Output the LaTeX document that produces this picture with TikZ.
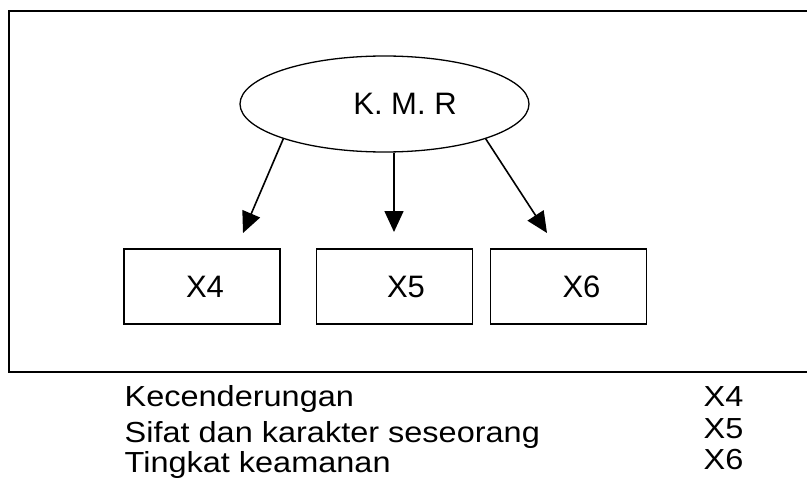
\documentclass[tikz,border=0pt]{standalone}
\usepackage{fontspec}
\setmainfont{Liberation Sans}
\newfontfamily\legendfont{Liberation Sans}[FakeStretch=1.12]
\usetikzlibrary{arrows.meta,shapes.geometric}
\begin{document}
\begin{tikzpicture}[x=1pt,y=-1pt,
  line width=1.3pt,
  boxnode/.style={draw, rectangle, minimum width=156pt, minimum height=75pt, inner sep=0pt, font=\fontsize{31}{36}\selectfont},
  ellnode/.style={draw, ellipse, minimum width=289pt, minimum height=96pt, inner sep=0pt, font=\fontsize{31}{36}\selectfont},
  arr/.style={-{Triangle[length=21pt,width=19pt]}, line width=1.6pt},
  legend/.style={anchor=base west, inner sep=0pt, font=\legendfont\fontsize{29}{32}\selectfont}]
\useasboundingbox (0,0) rectangle (807,487);
% frame (right side lies beyond the picture)
\draw[line width=1.6pt] (815,11) -- (9,11) -- (9,372) -- (815,372);
% nodes
\node[ellnode] (kmr) at (384.5,104) {\hspace*{41pt}K. M. R};
\node[boxnode] (x4) at (202,286.5) {\hspace*{6pt}X4};
\node[boxnode] (x5) at (394.5,286.5) {\hspace*{23pt}X5};
\node[boxnode] (x6) at (568.5,286.5) {\hspace*{26pt}X6};
% arrow tips
\coordinate (t4) at (243,233);
\coordinate (t5) at (394,232);
\coordinate (t6) at (547,233);
\draw[arr] (kmr.199) -- (t4);
\draw[arr] (kmr.south -| t5) -- (t5);
\draw[arr] (kmr.341) -- (t6);
% legend
\node[legend] (l1) at (124,406.7) {Kecenderungan};
\node[legend] (l2) at (124,442) {Sifat dan karakter seseorang};
\node[legend] (l3) at (124,472) {Tingkat keamanan};
\node[legend] (r1) at (703,406.7) {X4};
\node[legend] (r2) at (703,438.5) {X5};
\node[legend] (r3) at (703,469) {X6};
\end{tikzpicture}
\end{document}
